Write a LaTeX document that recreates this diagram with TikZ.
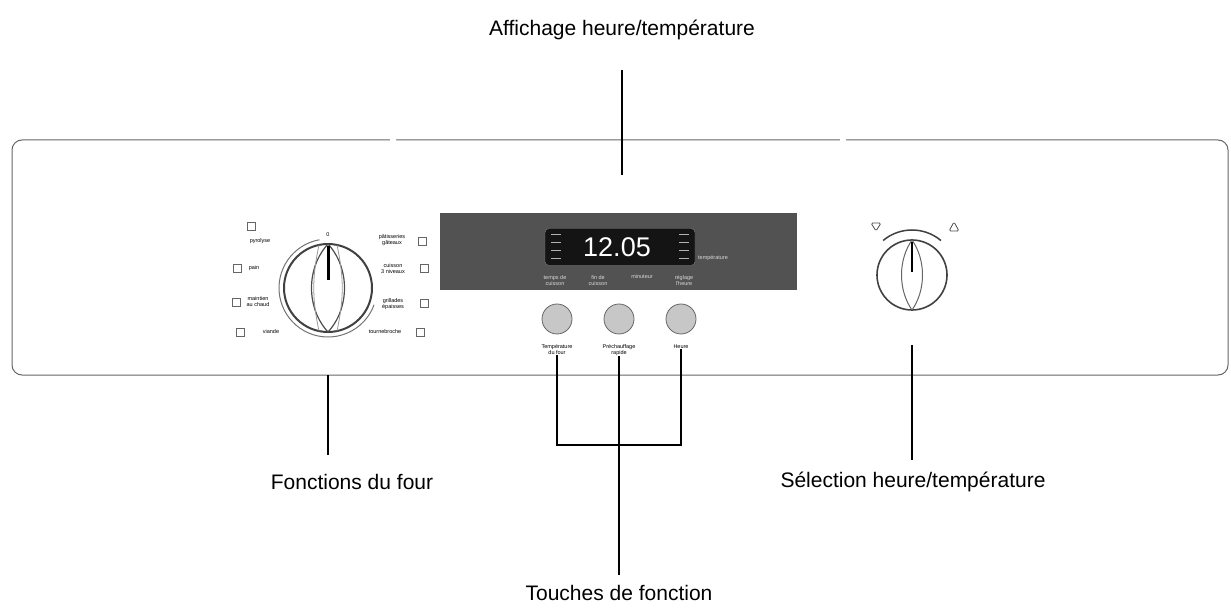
\documentclass[tikz,border=0pt]{standalone}
\usepackage{fontspec}
\setmainfont{Liberation Sans}
\begin{document}
\begin{tikzpicture}[x=1pt,y=-1pt,
  lbl/.style={font=\fontsize{21}{24}\selectfont,inner sep=0},
  tiny/.style={font=\fontsize{5.5}{6}\selectfont,inner sep=0,align=center},
  tinyw/.style={tiny,text=white!85!black},
  lead/.style={line width=1.3pt},
  btn/.style={circle,draw=black!60,fill=black!22,line width=0.8pt,minimum size=30pt,inner sep=0}]
\useasboundingbox (0,0) rectangle (1231,609);
\draw[black!60,line width=1pt,rounded corners=10] (12,140) rectangle (1228,375);
\fill[white] (390,137) rectangle (396,143) (840,137) rectangle (846,143);
% labels
\node[lbl] (aff) at (622,30) {Affichage heure/température};
\node[lbl] (fon) at (352,482) {Fonctions du four};
\node[lbl] (sel) at (913,482) {Sélection heure/température};
\node[lbl] (tou) at (619,593) {Touches de fonction};
% display
\fill[black!68] (440,213) rectangle (797,290);
\node[draw=black!50,fill=black!92,rounded corners=4,minimum width=150pt,minimum height=37pt] (disp) at (620,247) {};
\node[text=white,font=\fontsize{27}{27}\selectfont,inner sep=0] (dig) at (617,247) {12.05};
\node[tinyw,anchor=west] (temp) at (698,258) {température};
\foreach \x in {556,684}{\foreach \y in {235,243,251,259}{\draw[white!70!black,line width=1pt] (\x-5,\y)--(\x+5,\y);}}
\node[tinyw] (l1) at (555,281) {temps de\\cuisson};
\node[tinyw] (l2) at (598,281) {fin de\\cuisson};
\node[tinyw] (l3) at (642,277) {minuteur};
\node[tinyw] (l4) at (684,281) {réglage\\l'heure};
\coordinate (a1) at (622,70); \coordinate (a2) at (622,175);
\draw[lead] (a1) -- (a2);
% buttons
\node[btn] (b1) at (557,319) {};
\node[btn] (b2) at (619,319) {};
\node[btn] (b3) at (681,319) {};
\node[tiny] (t1) at (557,350) {Température\\du four};
\node[tiny] (t2) at (619,350) {Préchauffage\\rapide};
\node[tiny] (t3) at (681,347) {Heure};
\coordinate (j1) at (557,445); \coordinate (j3) at (681,445); \coordinate (tt) at (619,575);
\draw[lead] (t1.south) -- (j1) -- (j3) -- (t3.south);
\draw[lead] (t2.south) -- (tt);
% left dial
\begin{scope}[shift={(328,288)}]
\draw[black!75,line width=2pt] (0,0) circle (44);
\draw[black!55,line width=1pt] (-100:49) arc (-100:-340:49);
\draw[black!70,line width=1.2pt] (0,-44) .. controls (-22,-20) and (-22,20) .. (0,44);
\draw[black!70,line width=1.2pt] (0,-44) .. controls (22,-20) and (22,20) .. (0,44);
\draw[black!40,line width=0.8pt] (-9,-43) .. controls (-16,-10) and (-16,10) .. (-9,43);
\draw[black!40,line width=0.8pt] (9,-43) .. controls (16,-10) and (16,10) .. (9,43);
\draw[line width=3pt] (0,-42) -- (0,-8);
\node[tiny] at (0,-53) {0};
\end{scope}
\node[tiny] (f1) at (260,241) {pyrolyse};
\node[tiny] (f2) at (254,268) {pain};
\node[tiny] (f3) at (258,302) {maintien\\au chaud};
\node[tiny] (f4) at (271,332) {viande};
\node[tiny] (f5) at (392,240) {pâtisseries\\gâteaux};
\node[tiny] (f6) at (393,269) {cuisson\\3 niveaux};
\node[tiny] (f7) at (393,304) {grillades\\épaisses};
\node[tiny] (f8) at (385,332) {tournebroche};
\foreach \p in {(251,226),(237,268),(236,302),(240,332),(422,241),(424,268),(424,303),(420,332)}{\draw[black!60,line width=0.7pt] \p ++(-4,-4) rectangle ++(8,8);}
\coordinate (fdown) at (328,375); \coordinate (fend) at (328,455);
\draw[lead] (fdown) -- (fend);
% right dial
\begin{scope}[shift={(912,275)}]
\draw[black!75,line width=1.6pt] (0,0) circle (35);
\draw[black!75,line width=1.5pt] (-130:45) arc (-130:-50:45);
\draw[black!60,line width=1pt] (0,-35) .. controls (-14,-15) and (-14,15) .. (0,35);
\draw[black!60,line width=1pt] (0,-35) .. controls (14,-15) and (14,15) .. (0,35);
\draw[line width=2.5pt] (0,-33) -- (0,-3);
\draw[black!70,line width=0.8pt,rounded corners=1.5] (-41,-52) -- (-31,-52) -- (-36,-44) -- cycle;
\draw[black!70,line width=0.8pt,rounded corners=1.5] (37,-44) -- (47,-44) -- (42,-53) -- cycle;
\end{scope}
\coordinate (sdown) at (912,345); \coordinate (send) at (912,460);
\draw[lead] (sdown) -- (send);
\end{tikzpicture}
\end{document}
